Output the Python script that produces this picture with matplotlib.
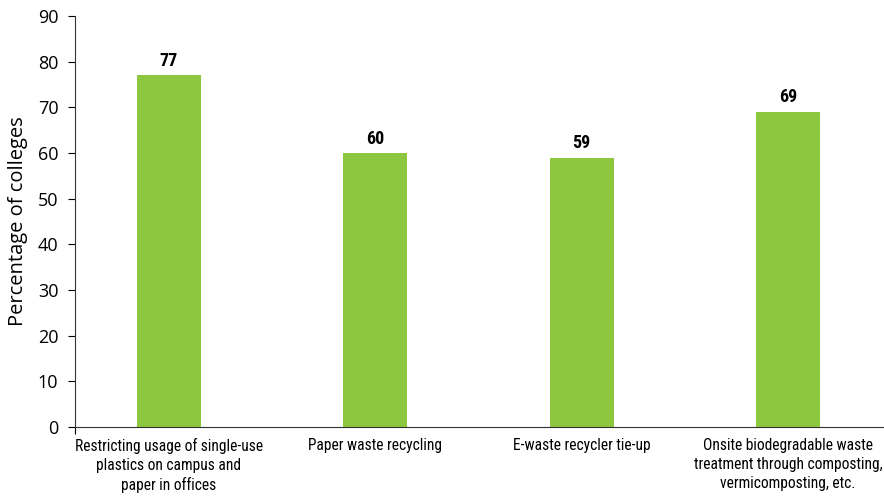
import numpy as np
import matplotlib.pyplot as plt

categories = [
    "Restricting usage of single-use\nplastics on campus and\npaper in offices",
    "Paper waste recycling",
    "E-waste recycler tie-up",
    "Onsite biodegradable waste\ntreatment through composting,\nvermicomposting, etc.",
]
values = [77, 60, 59, 69]

green = "#8DC63F"
cond = ["Roboto Condensed", "DejaVu Sans"]

fig = plt.figure(figsize=(8.84, 5.01), dpi=100)
ax = fig.add_axes([75 / 884, 74 / 501, 809 / 884, 411 / 501])

x = np.arange(len(categories))
bars = ax.bar(x, values, width=0.31, color=green)

for b, v in zip(bars, values):
    ax.text(b.get_x() + b.get_width() / 2, v + 1.2, str(v), ha="center", va="bottom",
            fontsize=13, fontweight="bold", family=cond)

ax.set_xlim(-0.455, 3.465)
ax.set_ylim(0, 90)
ax.set_yticks(np.arange(0, 91, 10))
ax.tick_params(axis="y", labelsize=13, length=5, width=0.8, pad=7)
for lab in ax.get_yticklabels():
    lab.set_family("Open Sans")

ax.set_xticks(x)
ax.set_xticklabels(categories, family=cond, fontsize=11.2, linespacing=1.32)
ax.tick_params(axis="x", length=0, pad=8)
ax.set_xticks([-0.455], minor=True)
ax.tick_params(axis="x", which="minor", length=5, width=0.8)

ax.set_ylabel("Percentage of colleges", family="Open Sans", fontsize=14.5, labelpad=7)

for s in ["top", "right"]:
    ax.spines[s].set_visible(False)
for s in ["left", "bottom"]:
    ax.spines[s].set_color("#333333")
    ax.spines[s].set_linewidth(0.8)

fig.savefig("out.png", dpi=100)
